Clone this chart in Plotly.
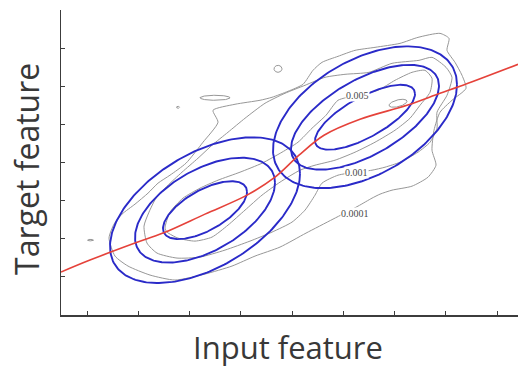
import numpy as np
import plotly.graph_objects as go

# ---------------- data (arbitrary feature units) ----------------
# Gaussian mixture components: centres
comp_x = [169, 329]
comp_y = [105, 198]
# blue iso-density ellipses: component index, half-width, half-height, correlation
ell_comp = [0, 0, 0, 1, 1, 1]
ell_hw = [95, 70, 42, 92, 74, 50]
ell_hh = [73, 52.5, 29, 71, 52.5, 32.5]
ell_rho = [0.50, 0.52, 0.63, 0.46, 0.60, 0.72]

# regression curve (red)
reg_x = [25, 54, 99, 127, 169, 211, 239, 263, 288, 324, 371, 404, 424, 482]
reg_y = [43, 55, 72, 82, 101, 120, 138, 160, 180, 196, 210, 222, 229, 251]

# empirical density contours (gray)
c0001_x = [73, 78, 86, 99, 112, 122, 134, 150, 167, 182, 177, 199, 224, 236, 252, 267, 277, 286, 302, 319,
           339, 364, 382, 404, 413, 411, 419, 426, 430, 416, 404, 398, 396, 400, 392, 376, 356, 344, 336,
           322, 297, 270, 244, 219, 196, 169, 139, 114, 92, 79, 73]
c0001_y = [77, 91, 101, 111, 122, 132, 140, 152, 173, 193, 205, 211, 215, 218, 224, 231, 245, 253, 259, 265,
           268, 272, 278, 282, 277, 265, 253, 240, 227, 215, 203, 185, 165, 150, 138, 129, 125, 121, 117,
           109, 96, 82, 68, 59, 49, 41, 35, 40, 49, 59, 77]
c001_x = [108, 113, 120, 131, 146, 162, 176, 192, 209, 229, 249, 269, 289, 309, 333, 356, 383, 396, 410, 416,
          411, 401, 401, 394, 382, 364, 349, 336, 320, 302, 286, 279, 269, 256, 236, 214, 189, 164, 141,
          121, 111, 108]
c001_y = [89, 103, 117, 129, 143, 157, 170, 183, 197, 212, 222, 230, 238, 241, 243, 252, 255, 258, 248, 238,
          220, 203, 187, 173, 163, 153, 148, 145, 143, 140, 132, 120, 105, 93, 83, 74, 65, 58, 57,
          62, 72, 89]
c005_x = [129, 134, 147, 164, 182, 204, 226, 246, 262, 276, 290, 302, 321, 342, 359, 376, 389, 396, 394, 384,
          374, 359, 339, 319, 299, 279, 264, 244, 226, 209, 192, 176, 159, 142, 131, 129]
c005_y = [87, 103, 117, 127, 135, 143, 152, 163, 173, 187, 200, 215, 220, 225, 235, 243, 245, 237, 223, 210,
          197, 185, 173, 163, 155, 150, 145, 133, 120, 105, 90, 78, 74, 77, 83, 87]
# small isolated contour islands: centre, half-width, half-height, correlation
isl_x = [242, 179, 142, 54.5, 362]
isl_y = [246.5, 217.5, 208, 75, 212]
isl_hw = [4, 15, 1.5, 3, 9]
isl_hh = [3.5, 2.5, 1, 0.8, 4]
isl_rho = [0, 0, 0, 0, 0.5]

# contour labels
lab_text = ["0.005", "0.001", "0.0001"]
lab_x = [321, 320, 319]
lab_y = [220, 143, 102]

# axis ticks (unlabelled)
x_tick0, x_dtick = 51, 51.25
y_tick0, y_dtick = 0, 38.17

# ---------------- figure ----------------
GRAY = "#979797"
BLUE = "#2a2ac8"
RED = "#e5423a"
AXIS = "#3c3c3c"

t = np.linspace(0, 2 * np.pi, 240)


def ellipse(cx, cy, hw, hh, rho):
    ex = cx + hw * np.cos(t)
    ey = cy + hh * (rho * np.cos(t) + np.sqrt(1 - rho ** 2) * np.sin(t))
    return ex, ey


fig = go.Figure()

for cx_, cy_ in [(c0001_x, c0001_y), (c001_x, c001_y), (c005_x, c005_y)]:
    fig.add_trace(go.Scatter(x=cx_, y=cy_, mode="lines", line=dict(color=GRAY, width=1, shape="spline", smoothing=0.6),
                             hoverinfo="skip", showlegend=False))
for i in range(len(isl_x)):
    ex, ey = ellipse(isl_x[i], isl_y[i], isl_hw[i], isl_hh[i], isl_rho[i])
    fig.add_trace(go.Scatter(x=ex, y=ey, mode="lines", line=dict(color=GRAY, width=1),
                             hoverinfo="skip", showlegend=False))

for i in range(len(ell_hw)):
    k = ell_comp[i]
    ex, ey = ellipse(comp_x[k], comp_y[k], ell_hw[i], ell_hh[i], ell_rho[i])
    fig.add_trace(go.Scatter(x=ex, y=ey, mode="lines", line=dict(color=BLUE, width=1.9),
                             hoverinfo="skip", showlegend=False))

fig.add_trace(go.Scatter(x=reg_x, y=reg_y, mode="lines", line=dict(color=RED, width=1.6, shape="spline", smoothing=1.0),
                         hoverinfo="skip", showlegend=False))

for txt, lx, ly in zip(lab_text, lab_x, lab_y):
    fig.add_annotation(x=lx, y=ly, text=txt, showarrow=False, xanchor="center", yanchor="middle",
                       font=dict(family="Liberation Serif", size=10, color="#4a4a4a"),
                       bgcolor="white", borderpad=0)

fig.add_annotation(xref="paper", yref="paper", x=0.497, y=-0.105, text="Input feature", showarrow=False,
                   xanchor="center", yanchor="middle", font=dict(family="Open Sans", size=31, color="#383838"))
fig.add_annotation(xref="paper", yref="paper", x=-0.0744, y=0.479, text="Target feature", showarrow=False,
                   textangle=-90, xanchor="center", yanchor="middle",
                   font=dict(family="Open Sans", size=32, color="#383838"))

fig.update_xaxes(range=[25, 482], tick0=x_tick0, dtick=x_dtick, ticks="inside", ticklen=4, tickwidth=1,
                 tickcolor=AXIS, showticklabels=False, showline=True, linecolor=AXIS, linewidth=1.5,
                 showgrid=False, zeroline=False)
fig.update_yaxes(range=[0, 305.4], tick0=y_tick0, dtick=y_dtick, ticks="inside", ticklen=4, tickwidth=1,
                 tickcolor=AXIS, showticklabels=False, showline=True, linecolor=AXIS, linewidth=1.5,
                 showgrid=False, zeroline=False)

fig.update_layout(width=518, height=367, margin=dict(l=61, r=0, t=10, b=52),
                  paper_bgcolor="white", plot_bgcolor="white")

fig.write_html("out.html", config={"displayModeBar": False, "staticPlot": True},
               post_script="document.body.style.margin='0';document.body.style.overflow='hidden';")
